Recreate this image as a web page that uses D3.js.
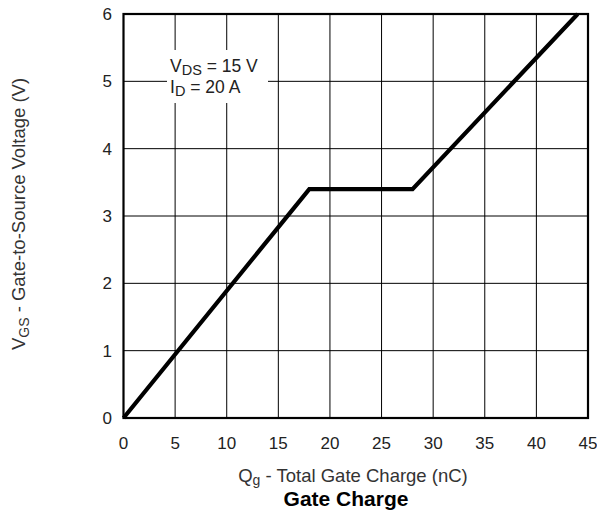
<!DOCTYPE html>
<html><head><meta charset="utf-8">
<script src="https://cdn.jsdelivr.net/npm/d3@7"></script>
<style>body{margin:0;background:#fff;} text{font-family:"Liberation Sans",Arial,sans-serif;}</style>
</head><body>
<svg id="c" width="597" height="524"></svg>
<script>
const xTicks = [0,5,10,15,20,25,30,35,40,45];
const yTicks = [0,1,2,3,4,5,6];
const chargeNC = [0, 18, 28, 44];
const vgsV = [0, 3.4, 3.4, 6];

const svg = d3.select("#c");
const m = {l:123.5, r:588, t:14, b:418};
const x = d3.scaleLinear().domain([0,45]).range([m.l, m.r]);
const y = d3.scaleLinear().domain([0,6]).range([m.b, m.t]);

// grid
svg.append("g").selectAll("line").data(xTicks.slice(1,-1)).join("line")
  .attr("x1",d=>x(d)).attr("x2",d=>x(d)).attr("y1",m.t).attr("y2",m.b)
  .attr("stroke","#000").attr("stroke-width",1);
svg.append("g").selectAll("line").data(yTicks.slice(1,-1)).join("line")
  .attr("y1",d=>y(d)).attr("y2",d=>y(d)).attr("x1",m.l).attr("x2",m.r)
  .attr("stroke","#000").attr("stroke-width",1);

// annotation box
svg.append("rect").attr("x",167).attr("y",50).attr("width",101).attr("height",53).attr("fill","#fff");

// frame
svg.append("rect").attr("x",m.l).attr("y",m.t).attr("width",m.r-m.l).attr("height",m.b-m.t)
  .attr("fill","none").attr("stroke","#000").attr("stroke-width",2.2);

// curve
const pts = chargeNC.map((c,i)=>[c, vgsV[i]]);
svg.append("path").datum(pts)
  .attr("d", d3.line().x(d=>x(d[0])).y(d=>y(d[1])))
  .attr("fill","none").attr("stroke","#000").attr("stroke-width",4.2)
  .attr("stroke-linejoin","miter");

// tick labels
svg.append("g").selectAll("text").data(xTicks).join("text")
  .attr("x",d=>x(d)).attr("y",449).attr("text-anchor","middle")
  .attr("font-size",17).attr("fill","#222").text(d=>d);
svg.append("g").selectAll("text").data(yTicks).join("text")
  .attr("x",112).attr("y",d=>y(d)+6).attr("text-anchor","end")
  .attr("font-size",17).attr("fill","#222").text(d=>d);

// annotation
const a1 = svg.append("text").attr("x",170).attr("y",72).attr("font-size",17.5).attr("fill","#222");
a1.append("tspan").text("V");
a1.append("tspan").attr("font-size",14.5).attr("dy",3).text("DS");
a1.append("tspan").attr("dy",-3).text(" = 15 V");
const a2 = svg.append("text").attr("x",170).attr("y",93).attr("font-size",17.5).attr("fill","#222");
a2.append("tspan").text("I");
a2.append("tspan").attr("font-size",14.5).attr("dy",3).text("D");
a2.append("tspan").attr("dy",-3).text(" = 20 A");

// x title
const xt = svg.append("text").attr("x",353).attr("y",482).attr("text-anchor","middle").attr("font-size",18.5).attr("fill","#333");
xt.append("tspan").text("Q");
xt.append("tspan").attr("font-size",14).attr("dy",3).text("g");
xt.append("tspan").attr("dy",-3).text(" - Total Gate Charge (nC)");

// y title
const yt = svg.append("text").attr("transform","translate(25,214) rotate(-90)").attr("text-anchor","middle").attr("font-size",18.5).attr("fill","#333");
yt.append("tspan").text("V");
yt.append("tspan").attr("font-size",14).attr("dy",4).text("GS");
yt.append("tspan").attr("dy",-4).text("  - Gate-to-Source Voltage (V)");

// chart title
svg.append("text").attr("x",346).attr("y",506).attr("text-anchor","middle")
  .attr("font-size",21).attr("font-weight","bold").attr("fill","#000").text("Gate Charge");
</script>
</body></html>
